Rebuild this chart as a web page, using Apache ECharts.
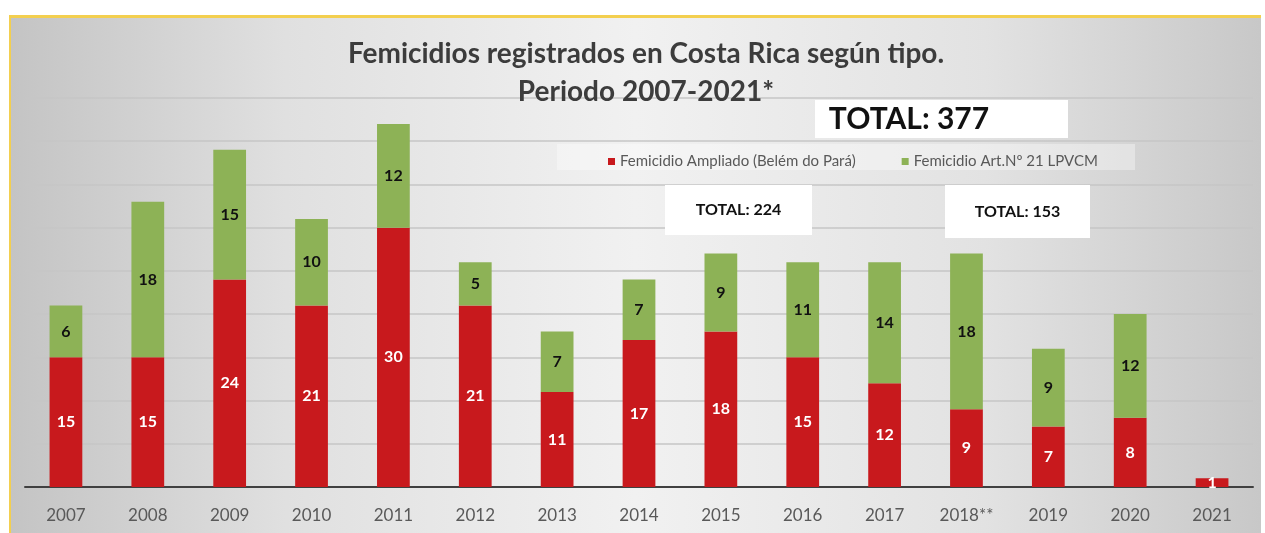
<!DOCTYPE html>
<html>
<head>
<meta charset="utf-8">
<script src="https://cdn.jsdelivr.net/npm/echarts@6/dist/echarts.min.js"></script>
<style>
  html, body { margin: 0; padding: 0; background: #ffffff; }
  #wrap { position: relative; width: 1265px; height: 533px; overflow: hidden; }
  #frame {
    position: absolute; left: 9px; top: 15px; width: 1250px; height: 520px;
    border-top: 3px solid #f3cf4f; border-left: 2px solid #f3cf4f;
    background: linear-gradient(90deg, #c4c4c4 0%, #e0e0e0 22%, #f1f1f1 50%, #e2e2e2 78%, #c8c8c8 100%);
  }
  #chart { position: absolute; left: 0; top: 0; width: 1265px; height: 533px; }
</style>
</head>
<body>
<div id="wrap">
  <div id="frame"></div>
  <div id="chart"></div>
</div>
<script>
(function() {
    var years = ['2007','2008','2009','2010','2011','2012','2013','2014','2015','2016','2017','2018**','2019','2020','2021'];
    var ampliado = [15,15,24,21,30,21,11,17,18,15,12,9,7,8,1];
    var art21 = [6,18,15,10,12,5,7,7,9,11,14,18,9,12,0];
    var totals = ['TOTAL: 377','TOTAL: 224','TOTAL: 153'];

    var red = '#c8191d';
    var green = '#8db256';
    var font = 'Lato, "Open Sans", sans-serif';

    function hide_zero(p) {
        return p.value ? p.value : '';
    }

    // cajas de totales
    function total_box(x, y, w, h, text, size, tx) {
        return {
            type: 'group',
            left: x, top: y, z: 20,
            children: [
                { type: 'rect', z: 20, shape: { x: 0, y: 0, width: w, height: h }, style: { fill: '#ffffff' } },
                { type: 'text', z: 21, x: tx === undefined ? w / 2 : tx, y: h / 2,
                  style: { text: text, font: 'bold ' + size + 'px ' + font, fill: '#111111', align: 'center', verticalAlign: 'middle' } }
            ]
        };
    }

    var option = {
        backgroundColor: 'transparent',
        textStyle: { fontFamily: font },
        title: {
            text: 'Femicidios registrados en Costa Rica según tipo.\nPeriodo 2007-2021*',
            left: 641,
            top: 30,
            textAlign: 'center',
            textStyle: { fontSize: 28, fontWeight: 'bold', color: '#3c3c3c', lineHeight: 38, fontFamily: font }
        },
        legend: {
            data: ['Femicidio Ampliado (Belém do Pará)', 'Femicidio Art.Nº 21 LPVCM'],
            left: 603,
            top: 149,
            itemWidth: 7,
            itemHeight: 7,
            itemGap: 46,
            icon: 'rect',
            textStyle: { fontSize: 15, color: '#595959', fontFamily: font }
        },
        grid: {
            left: 25,
            right: 12,
            top: 98,
            bottom: 46,
        },
        xAxis: {
            type: 'category',
            data: years,
            axisTick: { show: false },
            axisLine: { lineStyle: { color: '#404040', width: 2 } },
            axisLabel: { color: '#595959', fontSize: 17, margin: 20, fontFamily: font },
        },
        yAxis: {
            type: 'value',
            min: 0,
            max: 45,
            interval: 5,
            axisLabel: { show: false },
            axisLine: { show: false },
            axisTick: { show: false },
            splitLine: { lineStyle: { color: '#c6c6c6', width: 1.5 } },
        },
        graphic: [
            { type: 'rect', z: 1, shape: { x: 557, y: 144, width: 578, height: 26 }, style: { fill: 'rgba(255,255,255,0.35)' } },
            total_box(815, 100, 253, 38, totals[0], 30, 94),
            total_box(665, 185, 147, 50, totals[1], 16),
            total_box(945, 185, 145, 53, totals[2], 16),
        ],
        series: [
            {
                name: 'Femicidio Ampliado (Belém do Pará)',
                type: 'bar',
                stack: 'total',
                barWidth: '40%',
                itemStyle: { color: red },
                label: { show: true, position: 'inside', color: '#ffffff', fontSize: 16, fontWeight: 'bold', formatter: hide_zero },
                data: ampliado,
            },
            {
                name: 'Femicidio Art.Nº 21 LPVCM',
                type: 'bar',
                stack: 'total',
                barWidth: '40%',
                itemStyle: { color: green },
                label: { show: true, position: 'inside', color: '#111111', fontSize: 16, fontWeight: 'bold', formatter: hide_zero },
                data: art21,
            },
        ],
    };
    var myChart = echarts.init(document.getElementById('chart'));
    myChart.setOption(option);
})();
</script>
</body>
</html>
